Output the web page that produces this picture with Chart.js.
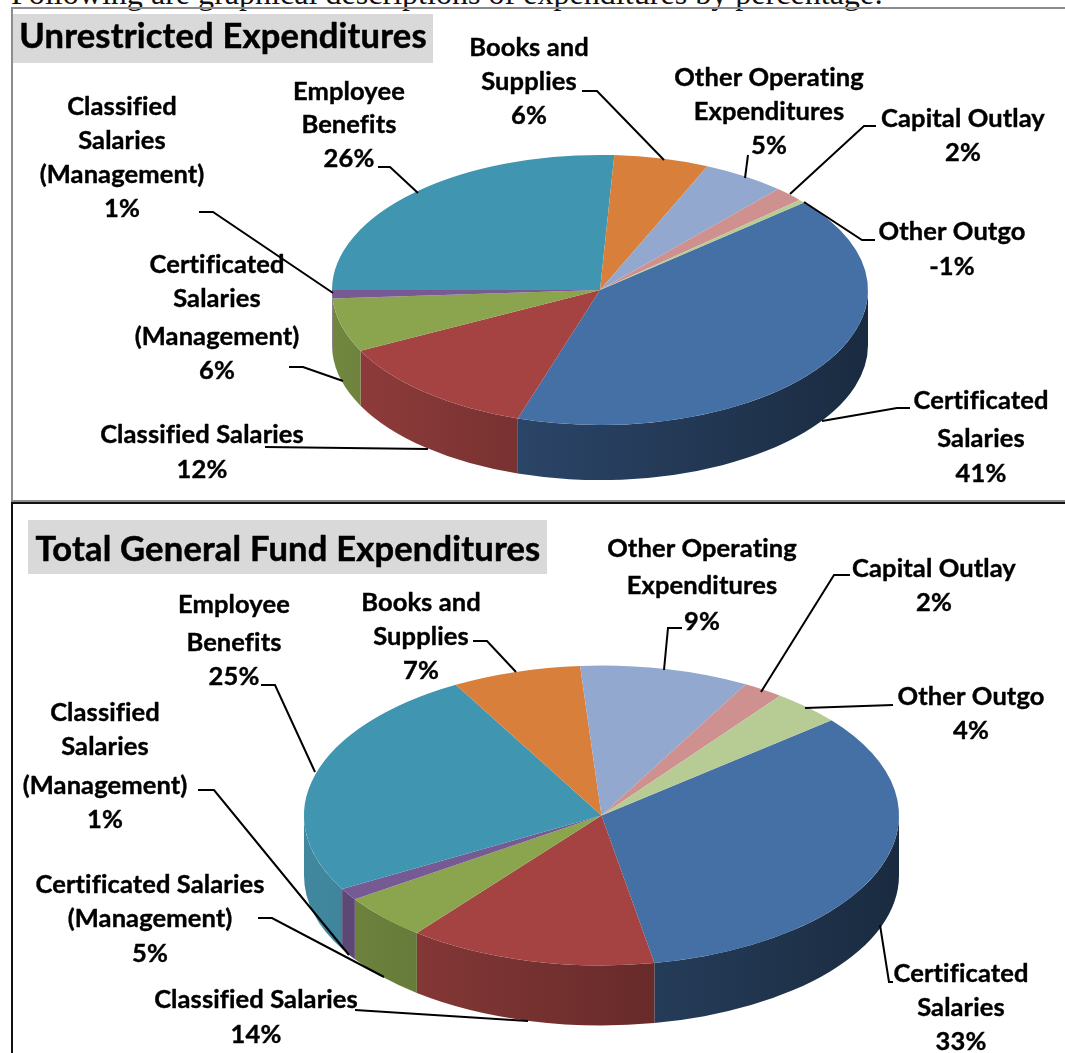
<!DOCTYPE html>
<html>
<head>
<meta charset="utf-8">
<script src="https://cdn.jsdelivr.net/npm/chart.js@4/dist/chart.umd.min.js"></script>
<style>
  html, body { margin: 0; padding: 0; background: #fff; }
  #page { position: relative; width: 1065px; height: 1053px; overflow: hidden; }
  #page canvas { position: absolute; left: 0; top: 0; }
  #intro { position: absolute; left: 11px; top: -25px; font: 32.1px "Liberation Serif"; line-height: 36px; white-space: nowrap; color: #111; }
  .rule { position: absolute; }
</style>
</head>
<body>
<div id="page">
  <div id="intro">Following are graphical descriptions of expenditures by percentage:</div>
  <div class="rule" style="left:11px;top:7px;width:1054px;height:2px;background:#8c8c8c"></div>
  <div class="rule" style="left:11px;top:7px;width:2px;height:494px;background:#8c8c8c"></div>
  <div class="rule" style="left:11px;top:500px;width:1054px;height:2px;background:#8c8c8c"></div>
  <div class="rule" style="left:11px;top:502px;width:1054px;height:2px;background:#111"></div>
  <div class="rule" style="left:11px;top:502px;width:2px;height:551px;background:#111"></div>
  <canvas id="chart1" width="1065" height="1200"></canvas>
  <canvas id="chart2" width="1065" height="1200"></canvas>
</div>
<script>
// data
const categories = [
  "Certificated Salaries", "Classified Salaries", "Certificated Salaries (Management)",
  "Classified Salaries (Management)", "Employee Benefits", "Books and Supplies",
  "Other Operating Expenditures", "Capital Outlay", "Other Outgo",
];
// printed percentages
const unrestrictedPercents = [41, 12, 6, 1, 26, 6, 5, 2, -1];
const totalPercents = [33, 14, 5, 1, 25, 7, 9, 2, 4];
const unrestrictedShares = [41.1, 12.6, 6.4, 1.0, 25.8, 5.7, 5.0, 1.8, 0.4];
const totalShares = [33.1, 13.5, 4.9, 1.3, 25.0, 7.0, 9.2, 2.2, 3.8];

const sliceColors = ["#4570a5", "#a54343", "#8aa54e", "#765a94", "#4096b0", "#d8803b", "#92a8ce", "#cf9090", "#b7cc95"];
const sideColors = ["#3f6698", "#b04a48", "#8aa54e", "#765a94", "#4fa6c2", "#d8803b", "#92a8ce", "#cf9090", "#b7cc95"];

// label wording and placement, one entry per category: wrapped lines, centre x, baselines
const unrestrictedLabels = [
  { lines: ["Certificated", "Salaries"], x: 981, ys: [409, 447, 482] },
  { lines: ["Classified Salaries"], x: 202, ys: [443, 478] },
  { lines: ["Certificated", "Salaries", "(Management)"], x: 217, ys: [273, 307, 345, 379] },
  { lines: ["Classified", "Salaries", "(Management)"], x: 122, ys: [115, 149, 183, 217] },
  { lines: ["Employee", "Benefits"], x: 349, ys: [100, 133, 167] },
  { lines: ["Books and", "Supplies"], x: 529, ys: [56, 90, 124] },
  { lines: ["Other Operating", "Expenditures"], x: 769, ys: [86, 120, 154] },
  { lines: ["Capital Outlay"], x: 963, ys: [127, 161] },
  { lines: ["Other Outgo"], x: 952, ys: [240, 275] },
];
const totalLabels = [
  { lines: ["Certificated", "Salaries"], x: 961, ys: [982, 1016, 1050] },
  { lines: ["Classified Salaries"], x: 256, ys: [1008, 1043] },
  { lines: ["Certificated Salaries", "(Management)"], x: 150, ys: [893, 927, 962] },
  { lines: ["Classified", "Salaries", "(Management)"], x: 105, ys: [721, 755, 794, 828] },
  { lines: ["Employee", "Benefits"], x: 234, ys: [613, 651, 685] },
  { lines: ["Books and", "Supplies"], x: 421, ys: [611, 645, 679] },
  { lines: ["Other Operating", "Expenditures"], x: 702, ys: [557, 594, 630] },
  { lines: ["Capital Outlay"], x: 934, ys: [577, 611] },
  { lines: ["Other Outgo"], x: 971, ys: [705, 739] },
];

const unrestrictedLeaders = [
  [[910, 408], [897, 408], [822, 421]],
  [[265, 447], [428, 449]],
  [[289, 367], [303, 367], [343, 381]],
  [[199, 212], [213, 212], [333, 293]],
  [[378, 167], [390, 167], [418, 193]],
  [[582, 91], [597, 91], [664, 160]],
  [[748, 155], [745, 178]],
  [[876, 126], [864, 126], [790, 194]],
  [[875, 240], [862, 240], [804, 202]],
];
const totalLeaders = [
  [[893, 982], [889, 982], [880, 925]],
  [[355, 1010], [528, 1021]],
  [[258, 918], [272, 918], [384, 977]],
  [[198, 790], [214, 790], [349, 955]],
  [[261, 685], [275, 685], [315, 772]],
  [[473, 641], [487, 641], [516, 672]],
  [[682, 628], [668, 628], [664, 670]],
  [[850, 575], [834, 575], [761, 692]],
  [[893, 705], [805, 708]],
];

const labelFont = 'bold 25.5px Lato';
const titleFont = 'bold 34.5px Lato';

function shade(hex, f) {
  const n = parseInt(hex.slice(1), 16);
  const c = [n >> 16, (n >> 8) & 255, n & 255].map(v => Math.round(v * f));
  return `rgb(${c[0]},${c[1]},${c[2]})`;
}

// Squash the pie into an ellipse and extrude the front rim
const tiltPlugin = {
  id: "tilt",
  beforeDatasetsDraw(chart, args, opts) {
    const ctx = chart.ctx;
    const arcs = chart.getDatasetMeta(0).data;
    const { x: cx, y: cy, outerRadius: r } = arcs[0];
    const ry = r * opts.squash;

    // rim, only the part of each slice that faces the viewer
    arcs.forEach((arc, i) => {
      const a0 = Math.max(arc.startAngle, 0);
      const a1 = Math.min(arc.endAngle, Math.PI);
      if (a1 <= a0) return;
      const xL = cx + r * Math.cos(a1);
      const xR = cx + r * Math.cos(a0);
      const lit = u => 0.62 - 0.2 * u;
      const grad = ctx.createLinearGradient(xL, 0, xR, 0);
      grad.addColorStop(0, shade(sideColors[i], lit((xL - cx) / r)));
      grad.addColorStop(1, shade(sideColors[i], lit((xR - cx) / r)));
      ctx.beginPath();
      ctx.ellipse(cx, cy, r, ry, 0, a0, a1);
      ctx.ellipse(cx, cy + opts.depth, r, ry, 0, a1, a0, true);
      ctx.closePath();
      ctx.fillStyle = grad;
      ctx.fill();
    });

    ctx.save();
    ctx.translate(0, cy);
    ctx.scale(1, opts.squash);
    ctx.translate(0, -cy);
  },
  afterDatasetsDraw(chart, args, opts) {
    const ctx = chart.ctx;
    ctx.restore();

    ctx.strokeStyle = "#000";
    ctx.lineWidth = 2;
    opts.leaders.forEach(pts => {
      ctx.beginPath();
      pts.forEach((p, i) => (i ? ctx.lineTo(p[0], p[1]) : ctx.moveTo(p[0], p[1])));
      ctx.stroke();
    });

    ctx.fillStyle = "#d9d9d9";
    ctx.fillRect(...opts.titleBox);
    ctx.fillStyle = "#000";
    ctx.textAlign = "center";
    ctx.textBaseline = "alphabetic";
    ctx.lineJoin = "round";
    ctx.font = titleFont;
    ctx.letterSpacing = "0.2px";
    ctx.lineWidth = 0.5;
    ctx.strokeText(opts.title, opts.titleX, opts.titleY);
    ctx.fillText(opts.title, opts.titleX, opts.titleY);

    ctx.font = labelFont;
    ctx.letterSpacing = "0.1px";
    ctx.lineWidth = 0.4;
    opts.labels.forEach((lab, i) => {
      const rows = [...lab.lines, opts.percents[i] + "%"];
      rows.forEach((t, j) => {
        ctx.strokeText(t, lab.x, lab.ys[j]);
        ctx.fillText(t, lab.x, lab.ys[j]);
      });
    });
  },
};

function makeChart(id, shares, tilt, rotation, padding) {
  return new Chart(document.getElementById(id), {
    type: "pie",
    plugins: [tiltPlugin],
    data: {
      labels: categories,
      datasets: [{
        data: shares,
        backgroundColor: sliceColors,
        borderWidth: 0,
      }],
    },
    options: {
      responsive: false,
      animation: false,
      rotation,
      layout: { padding },
      plugins: {
        legend: { display: false },
        tooltip: { enabled: false },
        tilt,
      },
    },
  });
}

makeChart("chart1", unrestrictedShares, {
  squash: 0.504, depth: 55, percents: unrestrictedPercents,
  title: "Unrestricted Expenditures", titleBox: [13, 14, 420, 49], titleX: 223, titleY: 48,
  labels: unrestrictedLabels, leaders: unrestrictedLeaders,
}, 49.6, { left: 332, right: 197, top: 22, bottom: 642 });

makeChart("chart2", totalShares, {
  squash: 0.504, depth: 60, percents: totalPercents,
  title: "Total General Fund Expenditures", titleBox: [28, 520, 519, 54], titleX: 288, titleY: 561,
  labels: totalLabels, leaders: totalLeaders,
}, 50.6, { left: 304, right: 166, top: 518, bottom: 87 });
</script>
</body>
</html>
